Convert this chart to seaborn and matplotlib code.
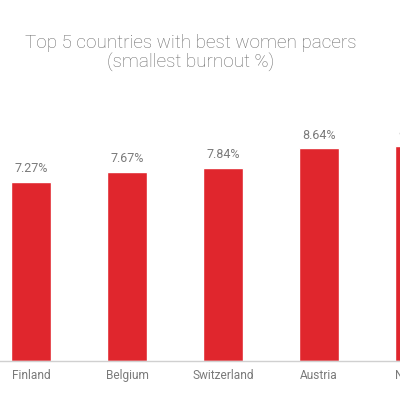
import matplotlib
matplotlib.use("Agg")
import matplotlib.pyplot as plt
import seaborn as sns
import pandas as pd

countries = ["Finland", "Belgium", "Switzerland", "Austria", "Norway"]
burnout = [7.27, 7.67, 7.84, 8.64, 8.74]
value_labels = ["7.27%", "7.67%", "7.84%", "8.64%", "8.74%"]

sns.set_theme(style="white")
plt.rcParams['font.family'] = ['Roboto', 'DejaVu Sans']

df = pd.DataFrame({"country": countries, "burnout": burnout})

fig = plt.figure(figsize=(4.0, 3.98), dpi=100)
W, H = 400, 398
base_px = 361
top_px = 100
step = 96.0
ext_px = 520
ax = fig.add_axes([0, (H - base_px) / H, ext_px / W, (base_px - top_px) / H])

sns.barplot(data=df, x="country", y="burnout", color="#e0262d", saturation=1,
            width=0.417, ax=ax)

x0 = -31 / step
ax.set_xlim(x0, x0 + ext_px / step)
ax.set_ylim(0, (base_px - top_px) / 24.6)

for i, (v, lab) in enumerate(zip(burnout, value_labels)):
    ax.annotate(lab, (i, v), xytext=(0, 5), textcoords="offset points",
                ha="center", va="bottom", fontsize=9.0, color="#7a7a7a",
                annotation_clip=False)

for s in ["top", "left", "right"]:
    ax.spines[s].set_visible(False)
ax.spines["bottom"].set_color("#d0d0d0")
ax.spines["bottom"].set_linewidth(1)
ax.set_yticks([])
ax.set_xlabel("")
ax.set_ylabel("")
ax.tick_params(axis="x", length=0, pad=6, labelsize=8.6, labelcolor="#7a7a7a")

fig.text(0.477, 1 - 43 / H, "Top 5 countries with best women pacers",
         ha="center", va="center", fontsize=13.6, color="#6b6b6b", fontweight="light")
fig.text(0.477, 1 - 62 / H, "(smallest burnout %)",
         ha="center", va="center", fontsize=13.6, color="#6b6b6b", fontweight="light")

fig.savefig("out.png", dpi=100)
